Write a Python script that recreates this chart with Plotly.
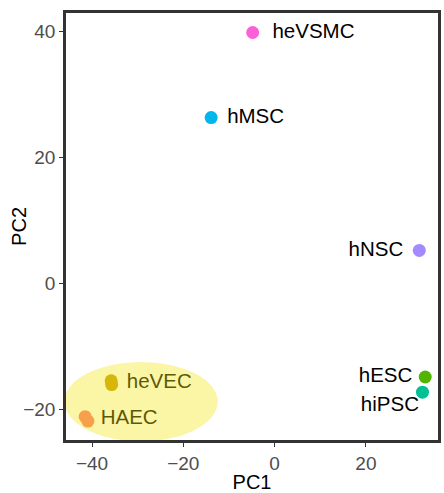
import pandas as pd
import plotly.graph_objects as go

# PCA scores per sample (replicates share a cell-type name)
samples = ["heVSMC", "hMSC", "hNSC", "hESC", "hiPSC",
           "heVEC", "heVEC", "HAEC", "HAEC"]
pc1 = [-4.8, -13.9, 31.7, 33.0, 32.4, -35.8, -35.7, -41.5, -40.9]
pc2 = [39.8, 26.3, 5.2, -14.9, -17.3, -15.5, -16.1, -21.2, -21.9]

# highlighted cluster (endothelial cells): centre and semi-axes in PC units
cluster_center = (-29.25, -18.8)
cluster_radius = (16.8, 6.3)

x_ticks = [-40, -20, 0, 20]
y_ticks = [-20, 0, 20, 40]

palette = {
    "HAEC": "#F8766D", "heVEC": "#C49A00", "hESC": "#53B400",
    "hiPSC": "#00C094", "hMSC": "#00B6EB", "hNSC": "#A58AFF",
    "heVSMC": "#FB61D7",
}

# label placement: text position and spacer radius around the point
label_style = {
    "heVSMC": ("middle right", 30),
    "hMSC": ("middle right", 24),
    "hNSC": ("middle left", 24),
    "hESC": ("middle left", 19),
    "hiPSC": ("bottom left", 4),
    "heVEC": ("middle right", 23),
    "HAEC": ("middle right", 21),
}

FONT = "Liberation Sans, Arial, sans-serif"

df = pd.DataFrame({"sample": samples, "PC1": pc1, "PC2": pc2})
groups = df.groupby("sample", sort=False)[["PC1", "PC2"]].mean().reset_index()

fig = go.Figure()

# sample points
fig.add_trace(go.Scatter(
    x=df["PC1"], y=df["PC2"], mode="markers",
    marker=dict(size=13, color=[palette[s] for s in df["sample"]], line=dict(width=0)),
    hoverinfo="text", text=df["sample"], showlegend=False,
))

# cell-type labels (transparent spacer markers set the text offset)
fig.add_trace(go.Scatter(
    x=groups["PC1"], y=groups["PC2"], mode="markers+text",
    text=groups["sample"],
    textposition=[label_style[s][0] for s in groups["sample"]],
    textfont=dict(family=FONT, size=20.5, color="#000000"),
    marker=dict(size=[label_style[s][1] for s in groups["sample"]],
                color="rgba(0,0,0,0)", line=dict(width=0)),
    hoverinfo="skip", showlegend=False,
))

cx, cy = cluster_center
rx, ry = cluster_radius
fig.add_shape(
    type="circle", xref="x", yref="y",
    x0=cx - rx, x1=cx + rx, y0=cy - ry, y1=cy + ry,
    fillcolor="rgba(245,228,20,0.38)", line=dict(width=0), layer="above",
)

axis_common = dict(
    showgrid=False, zeroline=False,
    showline=True, linecolor="#333333", linewidth=2.5, mirror=True,
    ticks="outside", ticklen=4, tickwidth=1.3, tickcolor="#333333",
    tickfont=dict(family=FONT, size=19, color="#4D4D4D"),
    title_font=dict(family=FONT, size=20, color="#000000"),
)

fig.update_xaxes(
    range=[-45.7, 35.8], tickvals=x_ticks,
    ticktext=[str(v).replace("-", "\u2212") for v in x_ticks],
    title_text="PC1", title_standoff=1, **axis_common,
)
fig.update_yaxes(
    range=[-24.9, 42.9], tickvals=y_ticks,
    ticktext=[str(v).replace("-", "\u2212") for v in y_ticks],
    **axis_common,
)

# y-axis title placed as a rotated annotation beside the tick labels
fig.add_annotation(
    text="PC2", xref="paper", yref="paper", x=-0.128, y=0.5,
    xanchor="center", yanchor="middle", textangle=-90, showarrow=False,
    font=dict(family=FONT, size=20, color="#000000"),
)

fig.update_layout(
    width=444, height=493,
    margin=dict(l=66, r=3, t=13, b=53),
    paper_bgcolor="white", plot_bgcolor="white",
)

fig.write_html("out.html")
